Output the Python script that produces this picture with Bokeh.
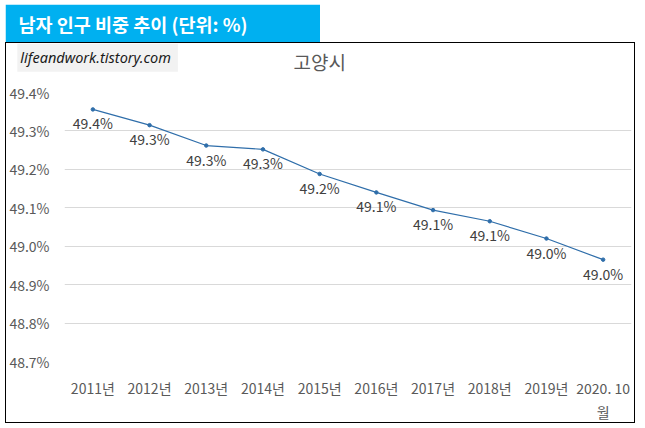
from bokeh.plotting import figure
from bokeh.layouts import column
from bokeh.models import (FactorRange, Range1d, FixedTicker, Label, Title,
                          ColumnDataSource, PrintfTickFormatter)
from bokeh.core.properties import value
from bokeh.embed import file_html
from bokeh.resources import INLINE

# ---- data ----
years = ["2011년", "2012년", "2013년", "2014년", "2015년", "2016년",
         "2017년", "2018년", "2019년", "2020. 10\n월"]
male_ratio = [49.356, 49.315, 49.262, 49.252, 49.188, 49.140,
              49.094, 49.065, 49.020, 48.965]
y_ticks = [48.7, 48.8, 48.9, 49.0, 49.1, 49.2, 49.3, 49.4]
value_labels = [f"{v:.1f}%" for v in male_ratio]

banner_text = "남자 인구 비중 추이 (단위: %)"
city_title = "고양시"
watermark = "lifeandwork.tistory.com"

KR = "Noto Sans CJK KR"
FL, FT, FW, FH = 57, 49, 565, 267     # frame of the main chart inside its border
PX0, PY0 = 6, 43                      # position of the main chart's content

# ---- banner ----
banner = figure(width=315, height=38, output_backend="svg", toolbar_location=None,
                x_axis_type=None, y_axis_type=None,
                min_border_left=FL + 1, min_border_right=0, min_border_top=0,
                min_border_bottom=0)
banner.grid.visible = False
banner.outline_line_color = None
banner.background_fill_color = "#00B0F0"
banner.border_fill_color = "#00B0F0"
banner.styles = {"margin-left": "5px", "margin-top": "4px"}
banner.add_layout(Title(text=banner_text, align="left", offset=13 - (FL + 1),
                        vertical_align="middle", standoff=10, text_font=KR,
                        text_font_size="18.5px", text_font_style="bold",
                        text_color="white"), "above")

# ---- main chart ----
src = ColumnDataSource(dict(x=years, y=male_ratio, lab=value_labels))

p = figure(frame_width=FW, frame_height=FH, output_backend="svg", toolbar_location=None,
           x_range=FactorRange(factors=years, range_padding=0),
           y_range=Range1d(y_ticks[0], y_ticks[-1]),
           min_border_left=FL, min_border_right=5, min_border_top=FT,
           min_border_bottom=61)
p.outline_line_color = None
p.background_fill_color = "white"
p.border_fill_color = "white"
p.styles = {"border": "1px solid black", "margin-left": "5px"}

for ax in (p.xaxis[0], p.yaxis[0]):
    ax.axis_line_color = None
    ax.major_tick_line_color = None
    ax.minor_tick_line_color = None
    ax.major_label_text_font = KR
    ax.major_label_text_font_size = "14px"
    ax.major_label_text_color = "#595959"
p.yaxis[0].ticker = FixedTicker(ticks=y_ticks)
p.yaxis[0].formatter = PrintfTickFormatter(format="%.1f%%")
p.yaxis[0].major_label_standoff = 9
p.xaxis[0].major_label_standoff = 10
p.xgrid.grid_line_color = None
p.ygrid.grid_line_color = "#D9D9D9"
p.ygrid.grid_line_width = 1

p.line("x", "y", source=src, line_color="#2F6EAA", line_width=1.2)
p.scatter("x", "y", source=src, size=3.5, fill_color="#2F6EAA", line_color="#2F6EAA")
p.text("x", "y", text="lab", source=src, text_align="center", text_baseline="top",
       y_offset=4, text_font=value(KR), text_font_size="14px", text_color="#404040")


def dx(img_x):  # page pixel -> synthetic categorical x
    return (img_x - (PX0 + FL)) / (FW / len(years))


def dy(img_y):  # page pixel -> y data
    return y_ticks[-1] - (img_y - (PY0 + FT)) / FH * (y_ticks[-1] - y_ticks[0])


# watermark (in the top panel so it is not clipped to the frame)
p.add_layout(Label(x=dx(16), y=dy(57.5), text=watermark,
                   text_font="Noto Sans", text_font_size="14.5px", text_font_style="italic",
                   text_color="#1a1a1a", text_baseline="middle",
                   background_fill_color="#F2F2F2", padding=(3, 7, 3, 5)), "above")
# chart title
p.add_layout(Title(text=city_title, align="left", offset=292 - (PX0 + FL),
                   vertical_align="middle", standoff=-22,
                   text_font=KR, text_font_size="19px", text_color="#595959",
                   text_font_style="normal"), "above")

layout = column(banner, p, spacing=0)
open("out.html", "w").write(file_html(layout, INLINE))
